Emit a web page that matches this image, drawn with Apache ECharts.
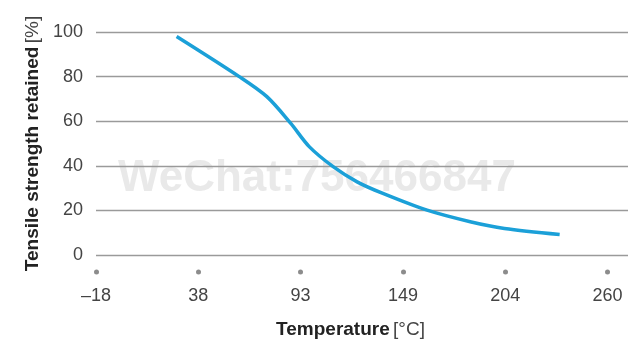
<!DOCTYPE html>
<html>
<head>
<meta charset="utf-8">
<script src="https://cdn.jsdelivr.net/npm/echarts@6/dist/echarts.min.js"></script>
<style>
  html, body { margin: 0; padding: 0; background: #fff; }
  #chartContainer { width: 640px; height: 353px; }
</style>
</head>
<body>
<div id="chartContainer"></div>
<script>
// tick positions are whole 100 °F steps, labelled in °C
var tickF = [0, 100, 200, 300, 400, 500];
var tickLabels = ['\u201318', '38', '93', '149', '204', '260'];

// curve: temperature [°C] vs. tensile strength retained [%]
var tempC = [26, 60, 75, 88, 98, 111, 124, 138, 162, 186, 204, 234];
var retained = [98, 80, 71, 59, 48.6, 39.6, 32.8, 27.6, 20.1, 14.8, 11.9, 9.2];

function toF(c) { return c * 1.8 + 32; }

function drawChart() {
  var chart = echarts.init(document.getElementById('chartContainer'));
  var font = "'Liberation Sans', Arial, sans-serif";

  chart.setOption({
    animation: false,
    grid: { left: 96, right: 12, top: 32, bottom: 98 },
    graphic: [{
      type: 'text',
      left: 118,
      top: 157,
      z: 0,
      style: {
        text: 'WeChat:756466847',
        font: 'bold 44px ' + font,
        fill: 'rgba(200,200,200,0.4)'
      }
    }],
    xAxis: {
      type: 'value',
      min: 0,
      max: 520,
      axisLine: { show: false },
      splitLine: { show: false },
      // a dashed tick with a single zero-length dash gives the round dot below the axis
      axisTick: {
        show: true,
        customValues: tickF,
        length: 20,
        lineStyle: { color: '#8c8c8c', width: 5, cap: 'round', type: [0, 200], dashOffset: -17 }
      },
      axisLabel: {
        customValues: tickF,
        margin: 32,
        color: '#444',
        fontSize: 18,
        fontFamily: font,
        formatter: function (v) {
          var i = tickF.indexOf(Math.round(v));
          return i >= 0 ? tickLabels[i] : '';
        }
      },
      name: '{b|Temperature} {r|[\u00b0C]}',
      nameLocation: 'middle',
      nameGap: 65,
      nameTextStyle: {
        padding: [0, 23, 0, 0],
        rich: {
          b: { fontSize: 19, fontWeight: 'bold', color: '#222', fontFamily: font },
          r: { fontSize: 19, color: '#444', fontFamily: font }
        }
      }
    },
    yAxis: {
      type: 'value',
      min: 0,
      max: 100,
      interval: 20,
      axisLine: { show: false },
      axisTick: { show: false },
      axisLabel: { margin: 13, color: '#444', fontSize: 18, fontFamily: font },
      splitLine: { lineStyle: { color: '#9a9a9a', width: 1.3 } },
      name: '{b|Tensile strength retained} {r|[%]}',
      nameLocation: 'middle',
      nameRotate: 90,
      nameGap: 53,
      nameTextStyle: {
        rich: {
          b: { fontSize: 19, fontWeight: 'bold', color: '#222', fontFamily: font },
          r: { fontSize: 19, color: '#444', fontFamily: font }
        }
      }
    },
    series: [{
      type: 'line',
      smooth: 0.3,
      symbol: 'none',
      z: 3,
      lineStyle: { color: '#1ba0d8', width: 3.5 },
      data: tempC.map(function (c, i) { return [toF(c), retained[i]]; })
    }]
  });
}

drawChart();
</script>
</body>
</html>
